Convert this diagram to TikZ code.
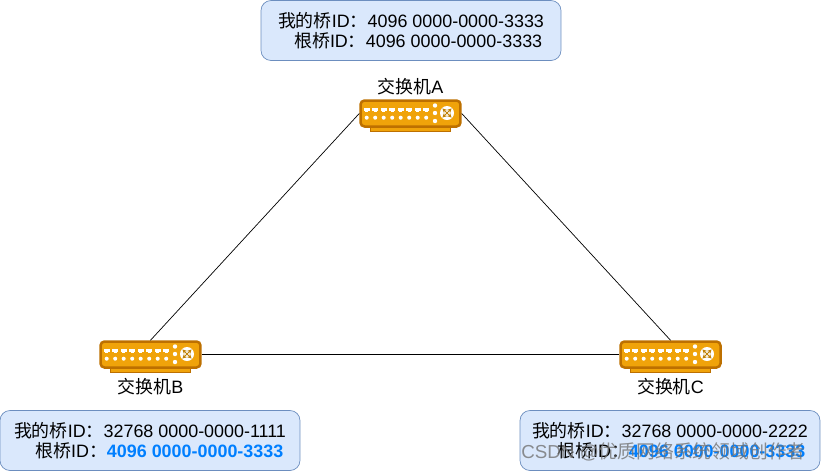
\documentclass[tikz,border=0pt]{standalone}
\usepackage{fontspec}
\setmainfont{Liberation Sans}
\newfontfamily\cjk{Noto Sans CJK SC}
\usetikzlibrary{positioning,arrows.meta}
\definecolor{swfill}{HTML}{F0A30A}
\definecolor{swline}{HTML}{BD7000}
\definecolor{boxfill}{HTML}{DAE8FC}
\definecolor{boxline}{HTML}{6C8EBF}
\definecolor{rootblue}{HTML}{007FFF}
\tikzset{
  swbody/.style={draw=swline, line width=0.5mm, fill=swfill, rounded corners=0.08cm,
    minimum width=2cm, minimum height=0.52cm, inner sep=0pt},
  swname/.style={font=\fontsize{10.2pt}{12pt}\selectfont, inner sep=0pt},
  idbox/.style={draw=boxline, fill=boxfill, rounded corners=0.2cm, minimum width=6cm,
    minimum height=1.2cm, align=right, inner sep=0pt,
    font=\fontsize{10.2pt}{11.6pt}\selectfont},
  pics/swparts/.style={code={
    % ports and leds
    \foreach \k in {0,...,7} {
      \fill[white] (-46.8+8.5*\k,-6) rectangle +(6,3);
      \fill[white] (-45.3+8.5*\k,-3) rectangle +(3,1.4);
      \fill[white] (-43.8+8.5*\k,4.2) circle (2);
    }
    \foreach \y in {-8,-0.5,7.5}
      \fill[white] (24.5,\y) circle (2.2);
    % fan
    \fill[white] (36.5,-0.5) circle (7);
    \foreach \a in {45,135,225,315}
      \draw[swfill!80!black, line width=0.15mm, -{Stealth[length=0.9mm,width=0.9mm]}] (36.5,-0.5) -- +(\a:6.5);
  }}
}
\newcommand{\zh}[1]{{\cjk #1}}
\begin{document}
\begin{tikzpicture}[x=0.02cm,y=-0.02cm]
\useasboundingbox (0,0) rectangle (821,471);

% draw switches
\foreach \name/\x/\y in {swA/410.5/113.5,swB/150.5/354.5,swC/670.5/354.5} {
  \fill[swfill, draw=swline, line width=0.3mm] (\x-40,\y+13) rectangle (\x+40,\y+18);
  \node[swbody] (\name) at (\x,\y) {};
  \pic at (\x,\y) {swparts};
}
\node[swname, above=2.2pt of swA] (nameA) {\zh{交换机}A};
\node[swname, below=5.5pt of swB] (nameB) {\zh{交换机}B};
\node[swname, below=5.5pt of swC] (nameC) {\zh{交换机}C};

% draw links
\draw (swA.west) -- (swB.north);
\draw (swA.east) -- (swC.north);
\draw (swB.east) -- (swC.west);

% draw bridge id boxes
\node[idbox] (boxA) at (411,30.5) {
  \zh{我的桥}ID\zh{：}4096 0000-0000-3333 \\
  \zh{根桥}ID\zh{：}4096 0000-0000-3333\kern1pt
};
\node[idbox] (boxB) at (150,440.5) {
  \zh{我的桥}ID\zh{：}32768 0000-0000-1111 \\
  \zh{根桥}ID\zh{：}\textcolor{rootblue}{\bfseries 4096 0000-0000-3333}\kern1.5pt
};
\node[idbox] (boxC) at (670,440.5) {
  \zh{我的桥}ID\zh{：}32768 0000-0000-2222 \\
  \zh{根桥}ID\zh{：}\textcolor{rootblue}{\bfseries 4096 0000-0000-3333}\kern1.5pt
};

% site mark on top of the last box
\node[anchor=east, inner sep=0pt, text=black!55, opacity=0.8,
  font=\fontsize{10.7pt}{12pt}\selectfont] (mark) at (806,452) {CSDN @\zh{优质网络系统领域创作者}};
\end{tikzpicture}
\end{document}
